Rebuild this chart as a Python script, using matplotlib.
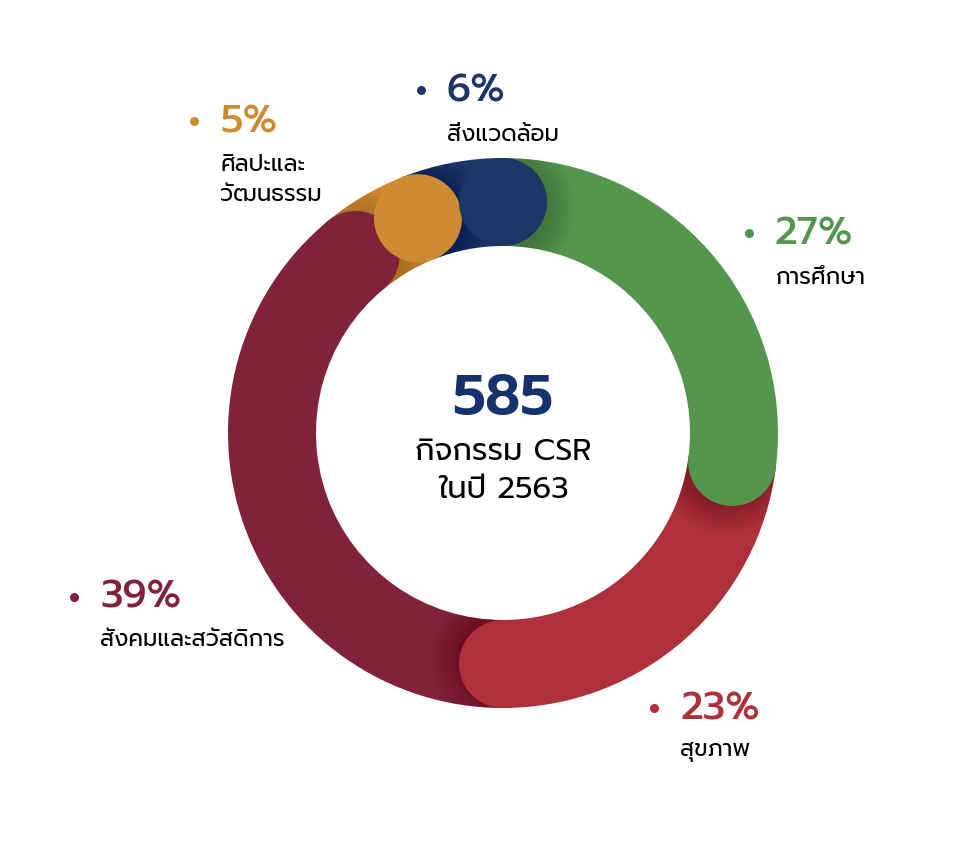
import numpy as np
import matplotlib
matplotlib.use('Agg')
import matplotlib.pyplot as plt
from matplotlib.patches import Wedge, Circle

plt.rcParams['font.family'] = ['Prompt', 'DejaVu Sans']

# data
labels = ['การศึกษา', 'สุขภาพ', 'สังคมและสวัสดิการ', 'ศิลปะและ\nวัฒนธรรม', 'สิ่งแวดล้อม']
shares = [27, 23, 39, 5, 6]
colors = ['#54964E', '#AD303A', '#80223A', '#CE8B31', '#1D3567']
total = 585
year = 2563

W, H = 967, 841
fig = plt.figure(figsize=(W / 100, H / 100), dpi=100)
ax = fig.add_axes([0, 0, 1, 1])
ax.set_xlim(0, W)
ax.set_ylim(0, H)
ax.set_aspect('equal')
ax.axis('off')

cx, cy = 503, H - 433
r_out, ring = 275, 88
r_mid = r_out - ring / 2

# angles, clockwise from 12 o'clock
starts, ends = [], []
a = 90.0
for s in shares:
    starts.append(a)
    a = a - s * 3.6
    ends.append(a)

wedges = []
for s0, s1, c in zip(starts, ends, colors):
    w = Wedge((cx, cy), r_out, s1, s0, width=ring, facecolor=c, edgecolor='none', zorder=1)
    ax.add_patch(w)
    wedges.append(w)

# soft shadow under each round end, clipped to the next segment
n = len(shares)
for i in range(n):
    nxt = wedges[(i + 1) % n]
    t = np.deg2rad(ends[i])
    px, py = cx + (r_mid - 6) * np.cos(t), cy + (r_mid - 6) * np.sin(t)
    for k in range(20):
        sh = Circle((px, py), ring / 2 + k * 1.5,
                    facecolor='black', edgecolor='none', alpha=0.008, zorder=2)
        ax.add_patch(sh)
        sh.set_clip_path(nxt)

# round ends
for e, c in zip(ends, colors):
    t = np.deg2rad(e)
    ax.add_patch(Circle((cx + r_mid * np.cos(t), cy + r_mid * np.sin(t)), ring / 2,
                        facecolor=c, edgecolor='none', zorder=3))

# centre text
ax.text(cx, H - 399, str(total), ha='center', va='center', fontsize=41,
        fontweight='semibold', color='#15326E')
ax.text(cx, H - 452, 'กิจกรรม CSR', ha='center', va='center', fontsize=22, color='black')
ax.text(cx, H - 490, 'ในปี ' + str(year), ha='center', va='center', fontsize=22, color='black')

# labels: (dot x, pct y, first label line y)
lab_pos = [(749, 234, 278), (654, 709, 752), (74, 598, 641), (194, 122, 165), (421, 91, 135)]
for (dx, py, ly), s, lab, c in zip(lab_pos, shares, labels, colors):
    ax.plot(dx, H - py + 1, 'o', ms=6.5, color=c, mec='none')
    ax.text(dx + 26, H - py, f'{s}%', ha='left', va='center', fontsize=28,
            fontweight='medium', color=c)
    for j, line in enumerate(lab.split('\n')):
        ax.text(dx + 26, H - ly - 30 * j, line, ha='left', va='center', fontsize=16.5,
                color='black')

fig.savefig('out.png', dpi=100)
